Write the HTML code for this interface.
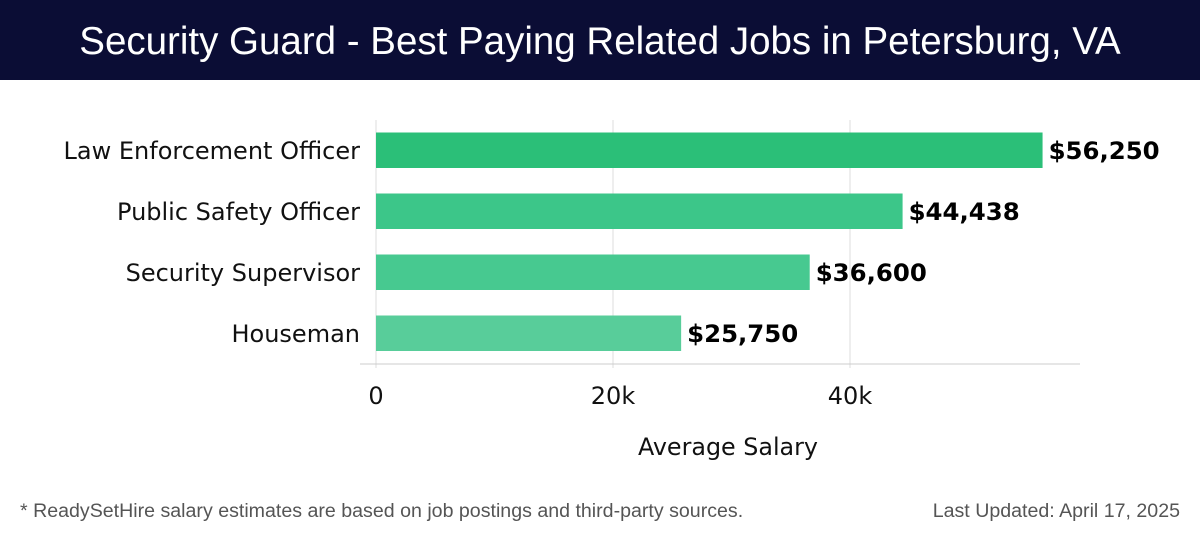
<!DOCTYPE html>
<html><head><meta charset="utf-8"><style>
body{margin:0;width:1200px;height:540px;background:#fff;overflow:hidden;font-family:"DejaVu Sans","Liberation Sans",sans-serif}
#hdr{position:absolute;left:0;top:0;width:1200px;height:80px;background:#0b0d35;color:#fff;font-family:"Liberation Sans",sans-serif;font-size:38.5px;text-align:center;line-height:84px}
.foot{position:absolute;top:500px;font-size:19.6px;color:#555;font-family:"Liberation Sans",sans-serif}
</style></head><body>
<div id="hdr">Security Guard - Best Paying Related Jobs in Petersburg, VA</div>
<svg id="chart" width="1200" height="540" style="position:absolute;left:0;top:0"></svg>
<div class="foot" style="left:20px">* ReadySetHire salary estimates are based on job postings and third-party sources.</div>
<div class="foot" style="right:20px">Last Updated: April 17, 2025</div>
<script>
const categories=["Law Enforcement Officer","Public Safety Officer","Security Supervisor","Houseman"];
const values=[56250,44438,36600,25750];
const valueLabels=["$56,250","$44,438","$36,600","$25,750"];
const ticks=[0,20000,40000];
const tickLabels=["0","20k","40k"];
const colors=["#2bbf78","#3cc689","#47c990","#58cd9a"];
const NS="http://www.w3.org/2000/svg";
const svg=document.getElementById('chart');
const x0=376,pxPer=237/20000;
const xs=v=>x0+v*pxPer;
const ys=i=>132.5+i*61;
function mk(t,a){const e=document.createElementNS(NS,t);for(const k in a)e.setAttribute(k,a[k]);svg.appendChild(e);return e;}
ticks.forEach((t,i)=>{
 const g=mk('line',{x1:xs(t),x2:xs(t),y1:120,y2:368,stroke:'#ddd','stroke-width':1});
 
 
 const tl=mk('text',{x:xs(t),y:404,'text-anchor':'middle','font-size':24,fill:'#111'});
 tl.textContent=tickLabels[i];
 
 
});
const ax=mk('line',{x1:360,x2:1080,y1:364,y2:364,stroke:'#ccc','stroke-width':1});


categories.forEach((c,i)=>{
 const y=ys(i);
 const b=mk('rect',{x:x0,y:y,width:xs(values[i])-x0,height:35.5,fill:colors[i]});
 
 
 const l=mk('text',{x:360,y:y+26.5,'text-anchor':'end','font-size':24,fill:'#111'});
 l.textContent=c;
 
 
 const v=mk('text',{x:xs(values[i])+6,y:y+26.5,'font-size':24.4,'font-weight':'bold',fill:'#000'});
 v.textContent=valueLabels[i];
 
 
});
const at=mk('text',{x:728,y:455,'text-anchor':'middle','font-size':23.8,fill:'#111'});
at.textContent="Average Salary";


</script>
</body></html>
